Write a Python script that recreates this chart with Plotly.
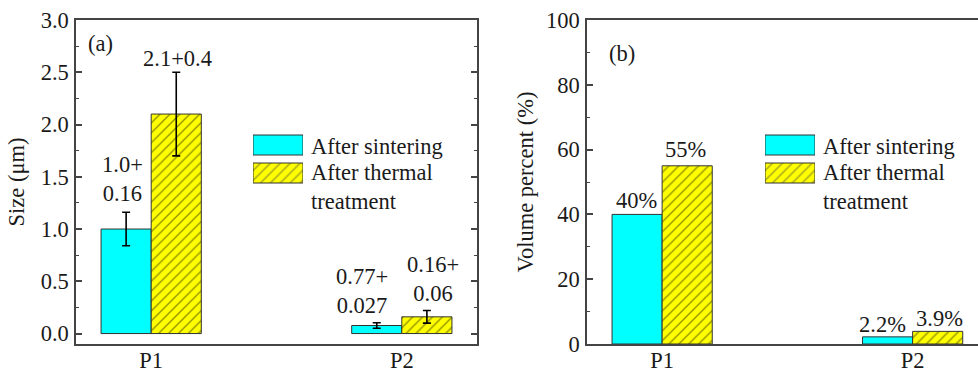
import plotly.graph_objects as go

# ---------------- data ----------------
categories = ["P1", "P2"]
series_names = ["After sintering", "After thermal<br>treatment"]

size_sintering = [1.0, 0.077]
size_sintering_err = [0.16, 0.027]
size_thermal = [2.1, 0.16]
size_thermal_err = [0.4, 0.06]
size_sintering_labels = ["1.0+<br>0.16", "0.77+<br>0.027"]
size_thermal_labels = ["2.1+0.4", "0.16+<br>0.06"]

vol_sintering = [40, 2.2]
vol_thermal = [55, 3.9]
vol_sintering_labels = ["40%", "2.2%"]
vol_thermal_labels = ["55%", "3.9%"]

size_ticks = [0.0, 0.5, 1.0, 1.5, 2.0, 2.5, 3.0]
vol_ticks = [0, 20, 40, 60, 80, 100]

# ---------------- style ----------------
W, H = 978, 374
FONT = "Liberation Serif"
FS = 22.5
CYAN = "#00FFFF"
YELLOW = "#FFFF00"
EDGE = "#333333"
AXC = "#444444"
TXT = "#1a1a1a"

def px(x):
    return x / W

def py(y):
    return (H - y) / H

hatch = dict(shape="/", fillmode="overlay", fgcolor="#2a2a00", size=7, solidity=0.2)

fig = go.Figure()

# left panel bars
fig.add_trace(go.Bar(x=categories, y=size_sintering, name=series_names[0],
                     marker=dict(color=CYAN, line=dict(color=EDGE, width=1)),
                     error_y=dict(type="data", array=size_sintering_err, color="black", thickness=1.6, width=4),
                     xaxis="x", yaxis="y", showlegend=False))
fig.add_trace(go.Bar(x=categories, y=size_thermal, name=series_names[1],
                     marker=dict(color=YELLOW, line=dict(color=EDGE, width=1), pattern=hatch),
                     error_y=dict(type="data", array=size_thermal_err, color="black", thickness=1.6, width=4),
                     xaxis="x", yaxis="y", showlegend=False))
# right panel bars
fig.add_trace(go.Bar(x=categories, y=vol_sintering, name=series_names[0],
                     marker=dict(color=CYAN, line=dict(color=EDGE, width=1)),
                     xaxis="x2", yaxis="y2", showlegend=False))
fig.add_trace(go.Bar(x=categories, y=vol_thermal, name=series_names[1],
                     marker=dict(color=YELLOW, line=dict(color=EDGE, width=1), pattern=hatch),
                     xaxis="x2", yaxis="y2", showlegend=False))

# legend swatches (drawn on small hidden axes)
for xa, ya in (("x3", "y3"), ("x4", "y4")):
    fig.add_trace(go.Bar(x=[1, 1], y=[0, 1], orientation="h", width=0.714, offset=-0.357,
                         marker=dict(color=[CYAN, YELLOW], line=dict(color=EDGE, width=1),
                                     pattern=dict(shape=["", "/"], fillmode="overlay", fgcolor="#2a2a00",
                                                  size=7, solidity=0.2)),
                         xaxis=xa, yaxis=ya, showlegend=False, hoverinfo="skip"))

tickfont = dict(family=FONT, size=FS, color=TXT)
common_x = dict(showline=True, linecolor=AXC, linewidth=1.5, mirror=True, ticks="",
                showgrid=False, zeroline=False, tickfont=tickfont, automargin=False,
                range=[-0.3, 1.3], ticklabelstandoff=-5)
common_y = dict(showline=True, linecolor=AXC, linewidth=1.5, ticks="inside", ticklen=6,
                tickcolor=AXC, tickwidth=1.5, showgrid=False, zeroline=False,
                tickfont=tickfont, automargin=False, ticklabelstandoff=1)

fig.update_layout(
    width=W, height=H,
    margin=dict(l=0, r=0, t=0, b=0),
    paper_bgcolor="white", plot_bgcolor="white",
    barmode="group", bargap=0.6, bargroupgap=0,
    font=dict(family=FONT, size=FS, color=TXT),
    xaxis=dict(domain=[px(76), px(477)], anchor="y", **common_x),
    yaxis=dict(domain=[py(344), py(20)], anchor="x", range=[-0.1, 3.0],
               tickvals=size_ticks, ticktext=[f"{v:.1f}" for v in size_ticks],
               mirror="allticks",
               minor=dict(dtick=0.25, tick0=0, ticks="inside", ticklen=3.5, tickcolor=AXC, tickwidth=1.2),
               title=dict(text="Size (μm)", font=dict(family=FONT, size=FS, color=TXT), standoff=10),
               **common_y),
    xaxis2=dict(domain=[px(587), 1.0], anchor="y2", **{**common_x, "range": [-0.3, 1.261]}),
    yaxis2=dict(domain=[py(344), py(20)], anchor="x2", range=[0, 100],
                tickvals=vol_ticks, mirror=False,
                minor=dict(dtick=10, tick0=0, ticks="inside", ticklen=3.5, tickcolor=AXC, tickwidth=1.2),
                title=dict(text="Volume percent (%)", font=dict(family=FONT, size=FS, color=TXT), standoff=6),
                **common_y),
    xaxis3=dict(domain=[px(253), px(303)], anchor="y3", range=[0, 1], visible=False, fixedrange=True),
    yaxis3=dict(domain=[py(187), py(131)], anchor="x3", range=[1.5, -0.5], visible=False, fixedrange=True),
    xaxis4=dict(domain=[px(765), px(815)], anchor="y4", range=[0, 1], visible=False, fixedrange=True),
    yaxis4=dict(domain=[py(187), py(131)], anchor="x4", range=[1.5, -0.5], visible=False, fixedrange=True),
)

ann = []
afont = dict(family=FONT, size=FS, color=TXT)

# value labels, left panel
left_shift_s = [(-4, 33), (-15, 32)]
left_shift_t = [(1, 14), (6, 32)]
for i in range(len(categories)):
    ann.append(dict(x=i - 0.1, y=size_sintering[i] + size_sintering_err[i], xref="x", yref="y",
                    text=size_sintering_labels[i], showarrow=False, yanchor="middle",
                    xshift=left_shift_s[i][0], yshift=left_shift_s[i][1], font=afont))
    ann.append(dict(x=i + 0.1, y=size_thermal[i] + size_thermal_err[i], xref="x", yref="y",
                    text=size_thermal_labels[i], showarrow=False, yanchor="middle",
                    xshift=left_shift_t[i][0], yshift=left_shift_t[i][1], font=afont))

# value labels, right panel
right_shift_s = [(-1, 14), (-5, 12)]
right_shift_t = [(-2, 16), (2, 13)]
for i in range(len(categories)):
    ann.append(dict(x=i - 0.1, y=vol_sintering[i], xref="x2", yref="y2",
                    text=vol_sintering_labels[i], showarrow=False, yanchor="middle",
                    xshift=right_shift_s[i][0], yshift=right_shift_s[i][1], font=afont))
    ann.append(dict(x=i + 0.1, y=vol_thermal[i], xref="x2", yref="y2",
                    text=vol_thermal_labels[i], showarrow=False, yanchor="middle",
                    xshift=right_shift_t[i][0], yshift=right_shift_t[i][1], font=afont))

# panel tags
ann.append(dict(x=px(86), y=py(43), xref="paper", yref="paper", text="(a)", showarrow=False,
                xanchor="left", yanchor="middle", font=afont))
ann.append(dict(x=px(607), y=py(53), xref="paper", yref="paper", text="(b)", showarrow=False,
                xanchor="left", yanchor="middle", font=afont))

# legend texts
for lx in (309, 821):
    ann.append(dict(x=px(lx), y=py(146), xref="paper", yref="paper", text=series_names[0],
                    showarrow=False, xanchor="left", yanchor="middle", font=afont, align="left"))
    ann.append(dict(x=px(lx), y=py(187), xref="paper", yref="paper", text=series_names[1],
                    showarrow=False, xanchor="left", yanchor="middle", font=afont, align="left"))

fig.update_layout(annotations=ann)
fig.write_html("out.html")
